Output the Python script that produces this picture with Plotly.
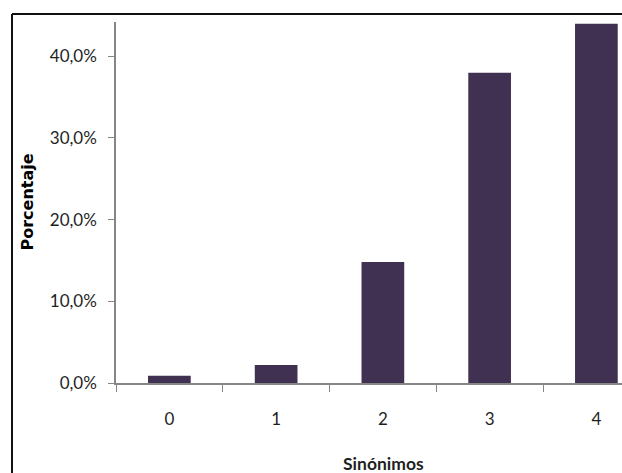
import plotly.graph_objects as go

categories = ["0", "1", "2", "3", "4"]
values = [0.9, 2.2, 14.8, 38.0, 44.0]
y_tickvals = [0, 10, 20, 30, 40]
y_ticktext = ["0,0%", "10,0%", "20,0%", "30,0%", "40,0%"]

W, H = 622, 473
L, R, T, B = 116, 0, 22, 90
pw, ph = W - L - R, H - T - B

def px(x):
    return (x - L) / pw

def py(y):
    return (H - B - y) / ph

fig = go.Figure(go.Bar(
    x=categories, y=values, width=0.4,
    marker=dict(color="#403152", line=dict(width=0)),
))

font_tick = dict(family="Lato", size=17, color="#1f1f1f")

fig.update_layout(
    width=W, height=H,
    margin=dict(l=L, r=R, t=T, b=B, autoexpand=False),
    paper_bgcolor="white", plot_bgcolor="white",
    showlegend=False,
    xaxis=dict(
        type="category", range=[-0.5, 4.24], tickson="boundaries",
        ticks="outside", ticklen=7, tickcolor="#868686", tickwidth=1,
        showline=True, linecolor="#868686", linewidth=1.5,
        showgrid=False, zeroline=False, tickfont=font_tick,
        ticklabelstandoff=20, automargin=False,
    ),
    yaxis=dict(
        range=[0, 44.2], tickvals=y_tickvals, ticktext=y_ticktext,
        ticks="outside", ticklen=6, tickcolor="#868686", tickwidth=1,
        showline=True, linecolor="#868686", linewidth=1.5,
        showgrid=False, zeroline=False, tickfont=font_tick,
        ticklabelstandoff=8, automargin=False,
    ),
    annotations=[
        dict(text="<b>Sinónimos</b>", xref="paper", yref="paper",
             x=px(383), y=py(463), xanchor="center", yanchor="middle",
             showarrow=False, font=dict(family="Lato", size=17.5, color="#1f1f1f")),
        dict(text="<b>Porcentaje</b>", xref="paper", yref="paper",
             x=px(27), y=0.5, xanchor="center", yanchor="middle", textangle=-90,
             showarrow=False, font=dict(family="DejaVu Sans", size=16, color="#000000")),
    ],
    shapes=[
        dict(type="line", xref="paper", yref="paper",
             x0=px(12), x1=px(12), y0=py(520), y1=py(14),
             line=dict(color="#111111", width=2)),
        dict(type="line", xref="paper", yref="paper",
             x0=px(12), x1=px(700), y0=py(14), y1=py(14),
             line=dict(color="#111111", width=2)),
    ],
)

fig.write_html(
    "out.html",
    config={"displayModeBar": False},
    post_script="document.body.style.margin='0px';document.body.style.overflow='hidden';",
)
